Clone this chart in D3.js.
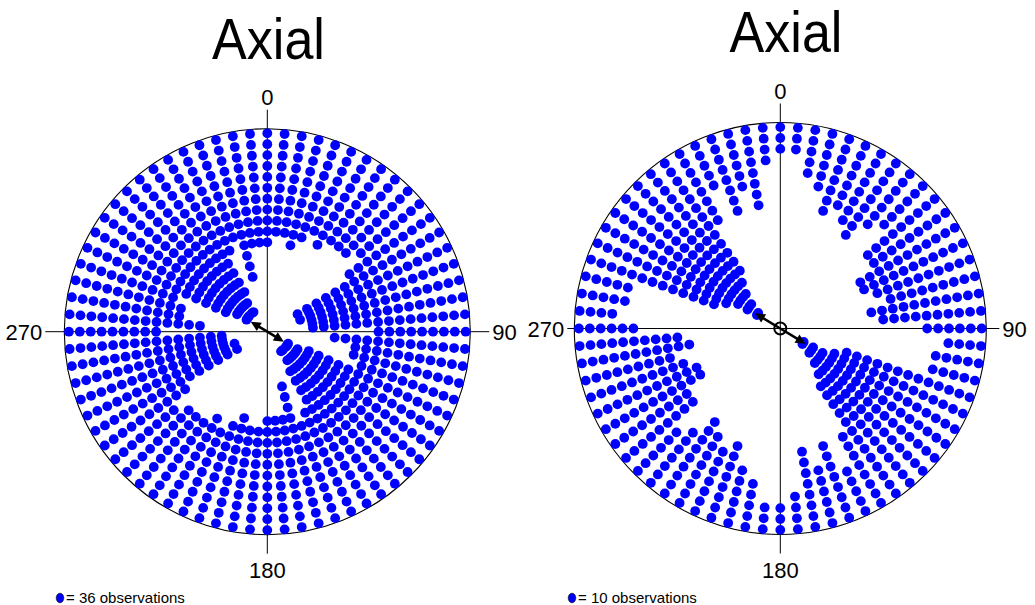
<!DOCTYPE html>
<html>
<head>
<meta charset="utf-8">
<script src="https://cdn.jsdelivr.net/npm/d3@7"></script>
<style>
  html, body { margin: 0; padding: 0; background: #ffffff; }
  svg { display: block; }
  text { font-family: "Liberation Sans", Arial, sans-serif; fill: #000; }
</style>
</head>
<body>
<svg id="chart" width="1035" height="605"></svg>
<script>
// Axial circular dot plots: each dot stands for a fixed number of observations,
// stacked inward from the rim in 5-degree bins. Axial data, so every bin is
// plotted at its angle and at the opposite angle.
const binAngles = d3.range(0, 180, 5);

// Number of dots per bin (0..175 degrees) for each panel
const leftDots = [11, 10, 10, 11, 10, 9, 10, 9, 9, 9, 8, 10,
                  16, 15, 16, 15, 15, 15, 9, 13, 11, 11, 10, 15,
                  17, 17, 17, 16, 17, 17, 15, 11, 10, 14, 11, 11];
const rightDots = [3, 3, 5, 6, 8, 7, 8, 9, 7, 6, 9, 9,
                   11, 11, 10, 9, 11, 10, 6, 4, 5, 5, 13, 14,
                   17, 17, 16, 15, 14, 13, 8, 5, 8, 6, 8, 4];

const panelTitles = ["Axial", "Axial"];
const tickLabels = ["0", "90", "180", "270"];
const obsPerDot = [36, 10];
const meanAxis = [121, 121];      // degrees
const meanLength = [0.095, 0.143]; // fraction of radius

const svg = d3.select("#chart");

const panels = [
  { cx: 267.3, cy: 331.7, R: 203, extV: 222, extL: 222, extR: 222, titleX: 268.5, titleY: 59,
    dots: leftDots, legendX: 60, ci: false },
  { cx: 780.3, cy: 328.5, R: 206, extV: 225, extL: 213, extR: 219, titleX: 786, titleY: 52,
    dots: rightDots, legendX: 572, ci: true }
];

const angle = d3.scaleLinear().domain([0, 360]).range([0, 2 * Math.PI]);

panels.forEach((p, i) => {
  const g = svg.append("g").attr("transform", `translate(${p.cx},${p.cy})`);
  const dotR = 4.9;
  const step = 10.9;
  const outer = p.R - 4.6;
  // radius of the k-th dot counted from the rim
  const stack = d3.scaleLinear().domain([0, 1]).range([outer, outer - step]);

  // axes
  g.append("line").attr("x1", 0).attr("x2", 0).attr("y1", -p.extV).attr("y2", p.extV)
    .attr("stroke", "#000").attr("stroke-width", 1);
  g.append("line").attr("x1", -p.extL).attr("x2", p.extR).attr("y1", 0).attr("y2", 0)
    .attr("stroke", "#000").attr("stroke-width", 1);

  // rim
  g.append("circle").attr("r", p.R).attr("fill", "none")
    .attr("stroke", "#000").attr("stroke-width", 1.1);

  // dots
  const pts = [];
  binAngles.forEach((a, bi) => {
    const n = p.dots[bi];
    [a, a + 180].forEach(th => {
      for (let k = 0; k < n; k++) pts.push({ th, k });
    });
  });
  g.selectAll("circle.dot").data(pts).join("circle")
    .attr("class", "dot")
    .attr("cx", d => stack(d.k) * Math.sin(angle(d.th)))
    .attr("cy", d => -stack(d.k) * Math.cos(angle(d.th)))
    .attr("r", dotR)
    .attr("fill", "#0000ff");

  // mean axis arrow (both directions)
  const L = meanLength[i] * p.R;
  [meanAxis[i], meanAxis[i] + 180].forEach(th => {
    const ux = Math.sin(angle(th)), uy = -Math.cos(angle(th));
    const tipX = L * ux, tipY = L * uy;
    g.append("line").attr("x1", 0).attr("y1", 0)
      .attr("x2", tipX - 6 * ux).attr("y2", tipY - 6 * uy)
      .attr("stroke", "#000").attr("stroke-width", 2.6);
    const hl = 10, hw = 4.8;
    const bx = tipX - hl * ux, by = tipY - hl * uy;
    g.append("path")
      .attr("d", `M${tipX},${tipY}L${bx - hw * uy},${by + hw * ux}L${bx + hw * uy},${by - hw * ux}Z`)
      .attr("fill", "#000");
  });
  if (p.ci) {
    g.append("circle").attr("r", 6).attr("fill", "none")
      .attr("stroke", "#000").attr("stroke-width", 2);
  }

  // tick labels
  const fs = 22;
  g.append("text").attr("x", 0).attr("y", -p.extV - 5).attr("text-anchor", "middle")
    .attr("font-size", fs).text(tickLabels[0]);
  g.append("text").attr("x", p.extR + 3).attr("y", 8).attr("text-anchor", "start")
    .attr("font-size", fs).text(tickLabels[1]);
  g.append("text").attr("x", 0).attr("y", p.extV + 24).attr("text-anchor", "middle")
    .attr("font-size", fs).text(tickLabels[2]);
  g.append("text").attr("x", -p.extL - 3).attr("y", 8).attr("text-anchor", "end")
    .attr("font-size", fs).text(tickLabels[3]);

  // title
  svg.append("text")
    .attr("transform", `translate(${p.titleX},${p.titleY}) scale(0.93,1.02)`)
    .attr("text-anchor", "middle").attr("font-size", 56).text(panelTitles[i]);

  // legend
  svg.append("ellipse").attr("cx", p.legendX).attr("cy", 598).attr("rx", 3.8).attr("ry", 4.8)
    .attr("fill", "#0000ff").attr("stroke", "#000").attr("stroke-width", 0.6);
  svg.append("text")
    .attr("transform", `translate(${p.legendX + 6},603)`)
    .attr("font-size", 15).text(`= ${obsPerDot[i]} observations`);
});
</script>
</body>
</html>
